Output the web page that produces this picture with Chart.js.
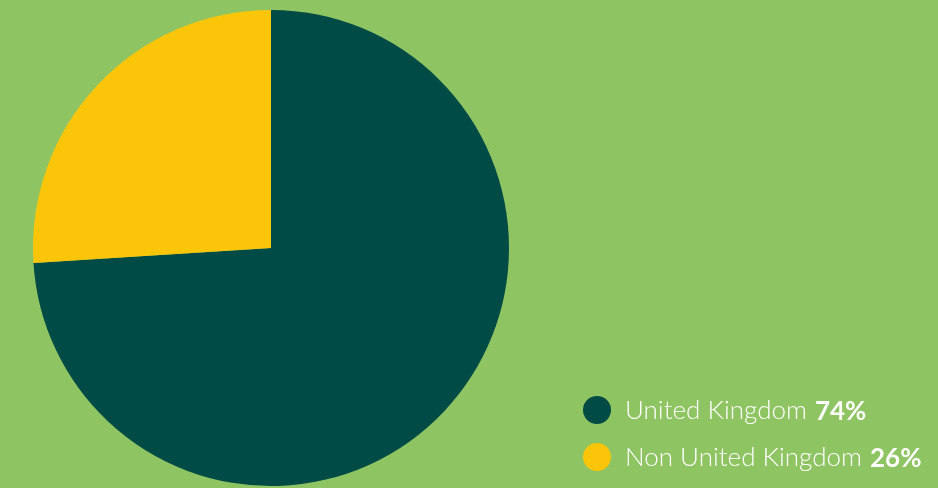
<!DOCTYPE html>
<html>
<head>
<meta charset="utf-8">
<script src="https://cdn.jsdelivr.net/npm/chart.js@4"></script>
<style>
  html, body { margin: 0; padding: 0; background: #8fc462; }
  #wrap { width: 938px; height: 488px; }
</style>
</head>
<body>
<div id="wrap"><canvas id="originChart"></canvas></div>
<script>
const labels = ['United Kingdom', 'Non United Kingdom'];
const shares = [74, 26];
const colors = ['#004b45', '#fbc50a'];

// legend with the light label followed by a bold percentage
const sideLegend = {
    id: 'sideLegend',
    afterDraw(chart) {
        const ctx = chart.ctx;
        ctx.save();
        labels.forEach((label, i) => {
            const y = 410 + i * 47;
            ctx.beginPath();
            ctx.arc(597, y, 14, 0, Math.PI * 2);
            ctx.fillStyle = colors[i];
            ctx.fill();

            ctx.fillStyle = '#ffffff';
            ctx.textBaseline = 'middle';
            ctx.textAlign = 'left';
            ctx.font = '300 26px Lato';
            ctx.fillText(label, 625, y + 1);
            const w = ctx.measureText(label).width + 8;
            ctx.font = 'bold 26px Lato';
            ctx.fillText(shares[i] + '%', 625 + w, y + 2);
        });
        ctx.restore();
    }
};

new Chart(document.getElementById('originChart'), {
    type: 'pie',
    data: {
        labels: labels,
        datasets: [{
            data: shares,
            backgroundColor: colors,
            borderWidth: 0
        }]
    },
    options: {
        responsive: true,
        maintainAspectRatio: false,
        animation: false,
        layout: { padding: { left: 33, right: 429, top: 10, bottom: 2 } },
        plugins: {
            legend: { display: false },
            tooltip: { enabled: false }
        }
    },
    plugins: [sideLegend]
});
</script>
</body>
</html>
